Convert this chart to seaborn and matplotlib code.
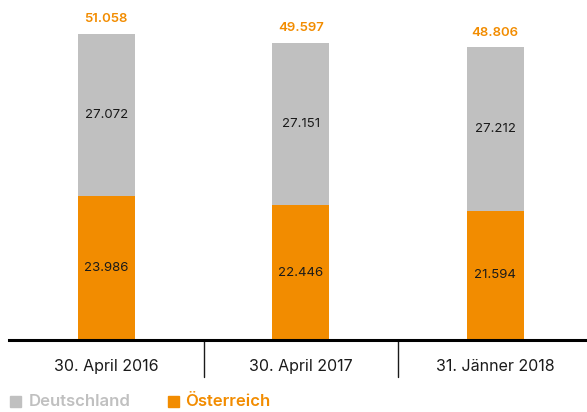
import matplotlib
matplotlib.use("Agg")
import matplotlib.pyplot as plt
import seaborn as sns
import pandas as pd
from matplotlib.patches import Rectangle

categories = ["30. April 2016", "30. April 2017", "31. Jänner 2018"]
oesterreich = [23986, 22446, 21594]
deutschland = [27072, 27151, 27212]
totals = [51058, 49597, 48806]
labels_de = ["27.072", "27.151", "27.212"]
labels_at = ["23.986", "22.446", "21.594"]
labels_tot = ["51.058", "49.597", "48.806"]

ORANGE = "#F28C00"
GRAY = "#C0C0C0"

sns.set_theme(style="white")
plt.rcParams["font.family"] = ["Inter", "DejaVu Sans"]

df = pd.DataFrame({"cat": categories, "at": oesterreich, "de": deutschland, "tot": totals})

fig = plt.figure(figsize=(5.87, 4.12), dpi=100)
# axes spans beyond right edge so category slots match reference spacing
ax = fig.add_axes([9/587, 72/412, 583.5/587, 340/412])

sns.barplot(data=df, x="cat", y="tot", color=GRAY, width=0.293, ax=ax, saturation=1, edgecolor="none")
sns.barplot(data=df, x="cat", y="at", color=ORANGE, width=0.293, ax=ax, saturation=1, edgecolor="none")

ax.set_ylim(0, 56731)
ax.set_xlim(-0.5, 2.5)
for s in ["top", "left", "right"]:
    ax.spines[s].set_visible(False)
ax.spines["bottom"].set_color("black")
ax.spines["bottom"].set_linewidth(2.2)
ax.set_yticks([])
ax.set_xlabel("")
ax.set_ylabel("")
ax.set_xticks(range(3))
ax.set_xticklabels(categories, fontsize=11.5, color="#1a1a1a")
ax.tick_params(axis="x", length=0, pad=14)

for i in range(3):
    ax.text(i, oesterreich[i] / 2, labels_at[i], ha="center", va="center", fontsize=9.5, color="#1a1a1a")
    ax.text(i, oesterreich[i] + deutschland[i] / 2, labels_de[i], ha="center", va="center", fontsize=9.5, color="#1a1a1a")
    ax.text(i, totals[i] + 1500, labels_tot[i], ha="center", va="bottom", fontsize=9.5, color=ORANGE, fontweight="semibold")

# separators below axis
for xs in [0.5, 1.5]:
    ax.plot([xs, xs], [0, -0.11 * 56731], color="#1a1a1a", lw=1, clip_on=False)

# legend
fig.patches.append(Rectangle((10/587, (412-407)/412), 11/587, 11/412, transform=fig.transFigure, color=GRAY))
fig.text(29/587, (412-401.5)/412, "Deutschland", fontsize=12, fontweight="semibold", color=GRAY, va="center", ha="left")
fig.patches.append(Rectangle((168/587, (412-407)/412), 11/587, 11/412, transform=fig.transFigure, color=ORANGE))
fig.text(185/587, (412-401.5)/412, "Österreich", fontsize=12, fontweight="semibold", color=ORANGE, va="center", ha="left")

fig.savefig("out.png", dpi=100)
